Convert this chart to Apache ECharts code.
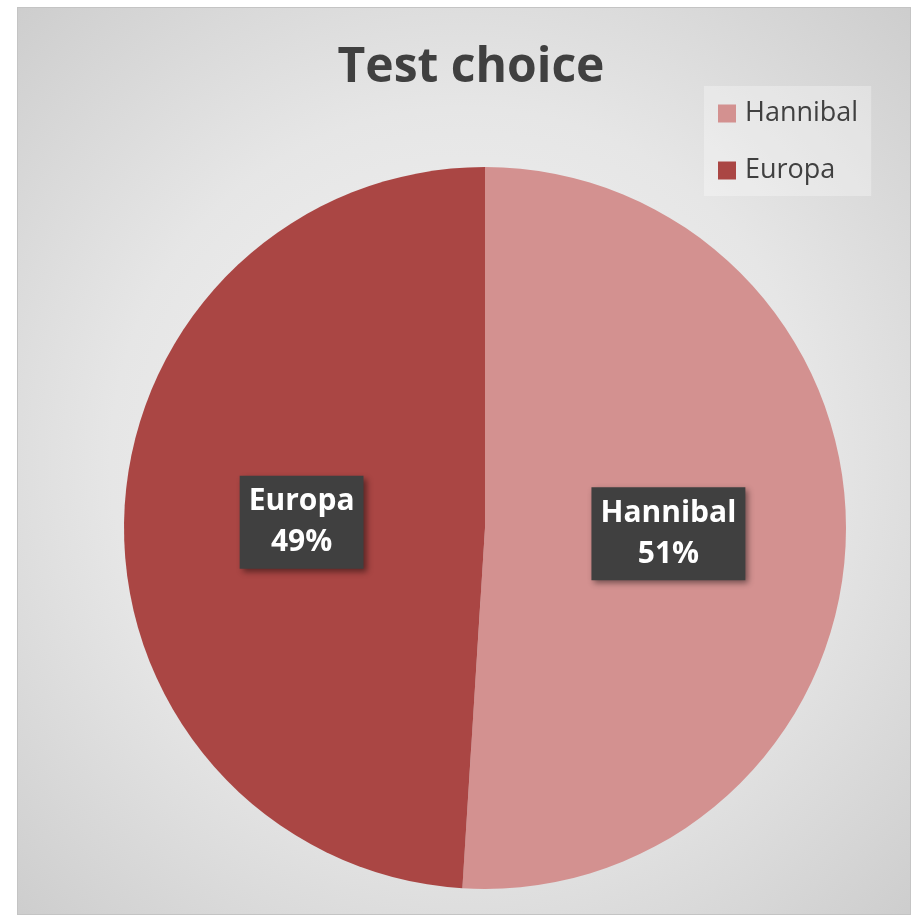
<!DOCTYPE html>
<html>
<head>
<meta charset="utf-8">
<script src="https://cdn.jsdelivr.net/npm/echarts@6/dist/echarts.min.js"></script>
<style>
  html, body { margin: 0; padding: 0; background: #ffffff; }
  #chart {
    position: absolute;
    left: 17px;
    top: 7px;
    width: 892px;
    height: 906px;
    border: 1px solid #c4c4c4;
  }
</style>
</head>
<body>
<div id="chart"></div>
<script>
// categories and values
var choices = ['Hannibal', 'Europa'];
var shares = [51, 49];
var sliceColors = ['#d39190', '#aa4644'];

var pieData = choices.map(function (name, i) {
    return { name: name, value: shares[i], itemStyle: { color: sliceColors[i] } };
});

var chart = echarts.init(document.getElementById('chart'));

var option = {
    backgroundColor: {
        type: 'radial',
        x: 0.5, y: 0.5, r: 0.72,
        colorStops: [
            { offset: 0, color: '#f4f4f4' },
            { offset: 0.55, color: '#e6e6e6' },
            { offset: 1, color: '#cdcdcd' }
        ]
    },
    title: {
        text: 'Test choice',
        left: 453,
        textAlign: 'center',
        top: 31,
        padding: [5, 0, 5, 0],
        textStyle: {
            fontFamily: 'Open Sans',
            fontWeight: 'bold',
            fontSize: 48,
            color: '#404040'
        }
    },
    legend: {
        orient: 'vertical',
        left: 686,
        top: 78,
        padding: [14, 13, 12, 14],
        itemWidth: 18,
        itemHeight: 18,
        itemGap: 30,
        icon: 'rect',
        backgroundColor: 'rgba(255,255,255,0.3)',
        data: choices,
        textStyle: {
            fontFamily: 'Open Sans',
            fontSize: 27,
            color: '#404040',
            padding: [0, 0, 0, 4]
        }
    },
    series: [
        {
            type: 'pie',
            center: [467, 520],
            radius: 361,
            startAngle: 90,
            clockwise: true,
            silent: true,
            data: pieData,
            label: {
                show: true,
                position: 'inside',
                formatter: '{b}\n{d}%',
                fontFamily: 'Open Sans',
                fontWeight: 'bold',
                fontSize: 30,
                lineHeight: 41,
                color: '#ffffff',
                backgroundColor: '#404040',
                padding: [6, 9, 5, 9],
                shadowColor: 'rgba(0,0,0,0.45)',
                shadowBlur: 6,
                shadowOffsetX: 3,
                shadowOffsetY: 3
            },
            labelLine: { show: false }
        }
    ]
};

chart.setOption(option);
</script>
</body>
</html>
